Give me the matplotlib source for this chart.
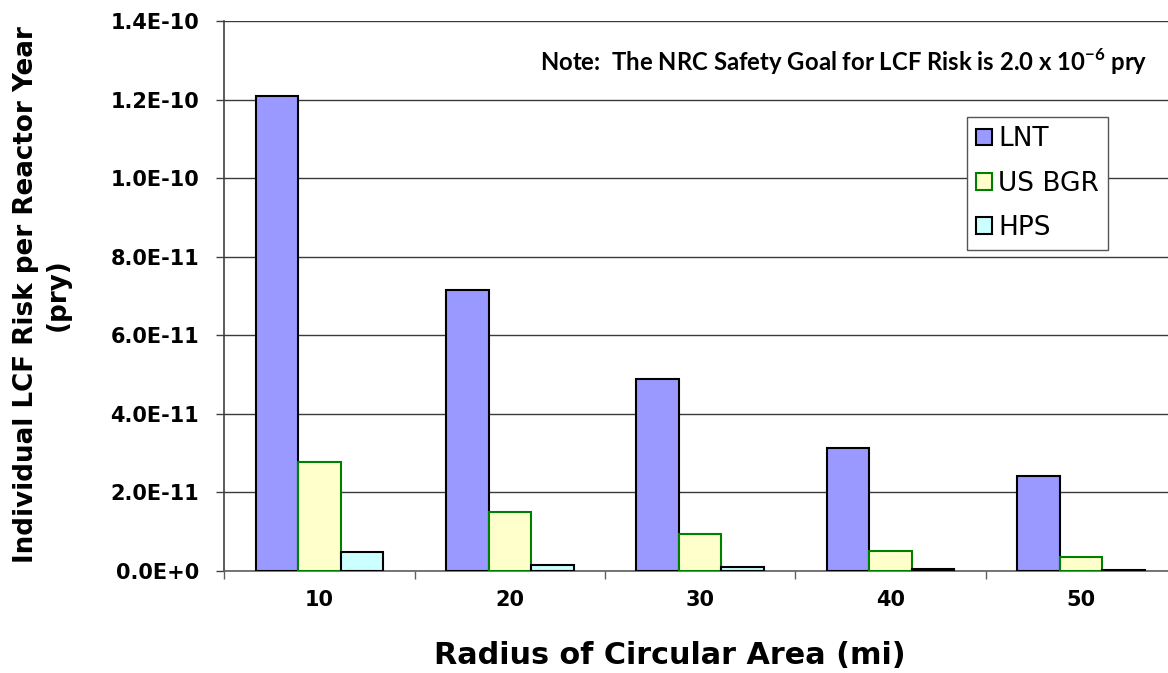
import matplotlib
matplotlib.use('Agg')
import matplotlib.pyplot as plt
import numpy as np
from matplotlib.ticker import FuncFormatter, FixedLocator

# data
radius = ['10', '20', '30', '40', '50']
lnt = [1.21e-10, 7.15e-11, 4.90e-11, 3.14e-11, 2.42e-11]
us_bgr = [2.77e-11, 1.51e-11, 0.94e-11, 0.52e-11, 0.36e-11]
hps = [0.49e-11, 0.15e-11, 0.09e-11, 0.04e-11, 0.03e-11]
series_names = ['LNT', 'US BGR', 'HPS']
y_ticks = [0, 2e-11, 4e-11, 6e-11, 8e-11, 1e-10, 1.2e-10, 1.4e-10]

plt.rcParams['mathtext.fontset'] = 'custom'
plt.rcParams['mathtext.rm'] = 'Lato:bold'
plt.rcParams['mathtext.bf'] = 'Lato:bold'


def sci_fmt(v, pos):
    # Excel style 1.4E-10 / 0.0E+0
    if v == 0:
        return '0.0E+0'
    exp = int(np.floor(np.log10(abs(v)) + 1e-9))
    man = v / 10 ** exp
    return '%.1fE%s%d' % (man, '+' if exp >= 0 else '-', abs(exp))


fig = plt.figure(figsize=(11.68, 6.73), dpi=100)
# plot area runs past the right edge like in the reference
ax = fig.add_axes([224.3 / 1168, 102 / 673, 951.7 / 1168, 550 / 673])

x = np.arange(len(radius))
w = 0.2235
ax.bar(x - w, lnt, w, color='#9999FF', edgecolor='black', linewidth=1.5,
       label=series_names[0], zorder=3)
ax.bar(x, us_bgr, w, color='#FFFFCC', edgecolor='#008000', linewidth=1.5,
       label=series_names[1], zorder=3)
ax.bar(x + w, hps, w, color='#CCFFFF', edgecolor='black', linewidth=1.5,
       label=series_names[2], zorder=3)

ax.set_xlim(-0.5, len(radius) - 0.5)
ax.set_ylim(0, 1.4e-10)
ax.set_yticks(y_ticks)
ax.yaxis.set_major_formatter(FuncFormatter(sci_fmt))
ax.set_xticks(x)
ax.set_xticklabels(radius)
ax.xaxis.set_minor_locator(FixedLocator(np.arange(len(radius) + 1) - 0.5))

ax.tick_params(axis='x', which='major', length=0, pad=14, labelsize=15)
ax.tick_params(axis='x', which='minor', length=6, width=1, color='#606060',
               direction='out')
ax.tick_params(axis='y', length=6, width=1, color='#404040', pad=12,
               labelsize=15)
for lab in ax.get_xticklabels() + ax.get_yticklabels():
    lab.set_fontweight('bold')

ax.grid(axis='y', color='#3a3a3a', linewidth=1.0, zorder=0)
ax.set_axisbelow(True)
ax.spines['top'].set_visible(False)
ax.spines['right'].set_visible(False)
ax.spines['left'].set_color('#404040')
ax.spines['bottom'].set_color('#606060')
ax.spines['left'].set_linewidth(1.2)
ax.spines['bottom'].set_linewidth(1.2)

leg = ax.legend(loc='upper left', bbox_to_anchor=(0.780, 0.8255),
                borderaxespad=0, fontsize=19, handlelength=0.6,
                handleheight=0.6, handletextpad=0.25, labelspacing=0.7,
                borderpad=0.35, fancybox=False, framealpha=1,
                edgecolor='#555555')
leg.get_frame().set_linewidth(1.0)

ax.text(0.970, 0.925,
        r'Note:  The NRC Safety Goal for LCF Risk is 2.0 x 10$^{\mathbf{-6}}$ pry',
        transform=ax.transAxes, ha='right', va='center', fontsize=17.2,
        family='Lato', fontweight='bold')

fig.text(670 / 1168, 1 - 656 / 673, 'Radius of Circular Area (mi)',
         ha='center', va='center', fontsize=21.8, fontweight='bold')
fig.text(42 / 1168, 1 - 295 / 673, 'Individual LCF Risk per Reactor Year\n(pry)',
         ha='center', va='center', rotation=90, fontsize=18.8,
         fontweight='bold', multialignment='center', linespacing=1.25)

fig.savefig('out.png', dpi=100)
